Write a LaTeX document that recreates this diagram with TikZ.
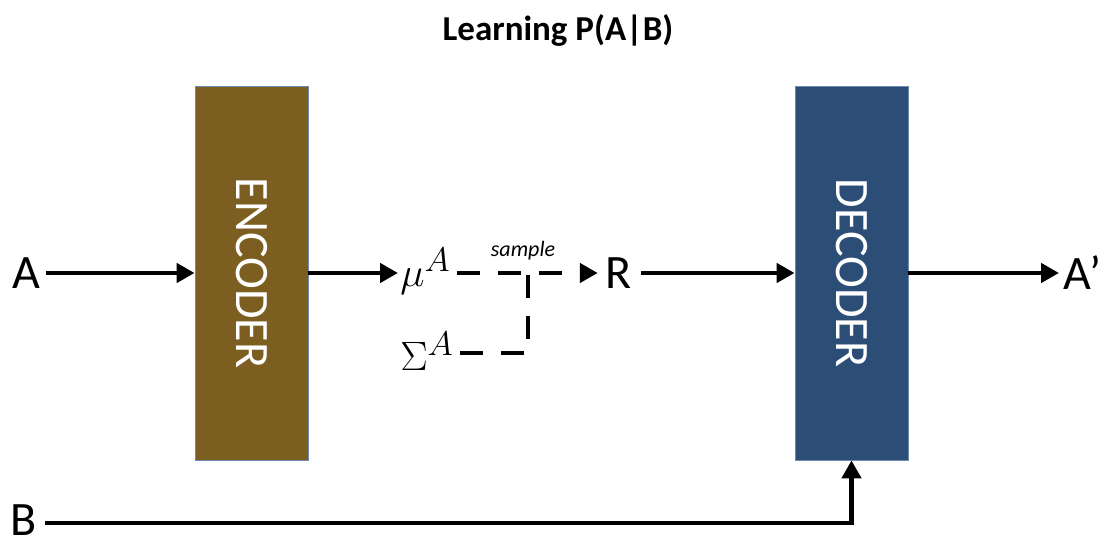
\documentclass[tikz,border=0pt]{standalone}
\usepackage{fontspec}
\setmainfont{Carlito}
\usetikzlibrary{arrows.meta}
\definecolor{encfill}{RGB}{124,95,32}
\definecolor{decfill}{RGB}{44,77,117}
\definecolor{edgecol}{RGB}{110,140,175}
\begin{document}
\begin{tikzpicture}[x=1pt,y=1pt,
  lbl/.style={inner sep=0pt, font=\fontsize{48}{50}\selectfont},
  mlbl/.style={inner sep=0pt, scale=1.65, font=\fontsize{24.88}{26}\selectfont},
  blk/.style={draw=edgecol, line width=0.8pt, minimum width=113pt, minimum height=374pt, inner sep=0pt},
  blktext/.style={text=white, rotate=-90, inner sep=0pt, font=\fontsize{48}{50}\selectfont},
  arr/.style={line width=4.5pt, -{Triangle[length=18pt,width=19pt]}},
  dsh/.style={line width=4.5pt, dash pattern=on 23pt off 18pt},
]
\useasboundingbox (0,0) rectangle (1109,541);
\node[font=\bfseries\fontsize{35}{37}\selectfont] (title) at (558,511) {Learning P(A|B)};
\node[blk, fill=encfill] (enc) at (251.5,268) {};
\node[blktext] (enctext) at (enc.center) {ENCODER};
\node[blk, fill=decfill] (dec) at (851.5,268) {};
\node[blktext] (dectext) at (dec.center) {DECODER};
\node[lbl] (A) at (26,268) {A};
\node[mlbl, anchor=west] (mu) at (400,270) {$\mu^A$};
\node[mlbl, anchor=west] (sig) at (400,190) {$\Sigma^A$};
\node[lbl] (R) at (619,268) {R};
\node[lbl, anchor=west] (Ap) at (1063,268) {A’};
\node[lbl] (B) at (24,21) {B};
\node[font=\itshape\fontsize{22}{24}\selectfont] (smp) at (523,290) {sample};
\coordinate (join) at (528,268);
\draw[arr] ([xshift=6pt]A.east) -- (enc.west |- A.east);
\draw[arr] (enc.east |- join) -- ([xshift=-2pt]mu.west |- join);
\draw[dsh, -{Triangle[length=18pt,width=19pt]}] ([xshift=6pt]mu.east |- join) -- ([xshift=-8pt]R.west |- join);
\draw[dsh] ([xshift=6pt]sig.east |- 0,188) -| (join);
\draw[arr] ([xshift=9pt]R.east) -- (dec.west |- R.east);
\draw[arr] (dec.east |- Ap.west) -- ([xshift=-4pt]Ap.west);
\draw[arr] ([xshift=8pt]B.east |- 0,18) -| (dec.south);
\end{tikzpicture}
\end{document}
